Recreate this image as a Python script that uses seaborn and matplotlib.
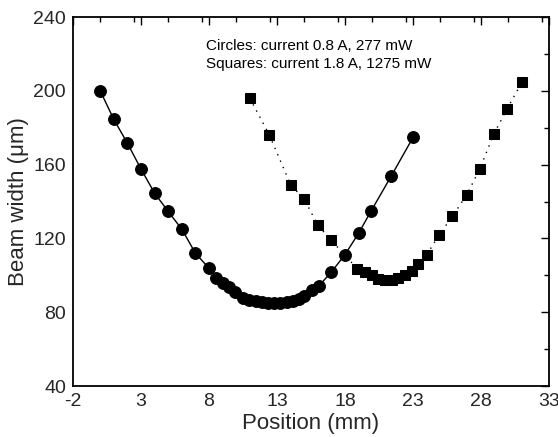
import matplotlib
matplotlib.use("Agg")
import matplotlib.pyplot as plt
import seaborn as sns
import pandas as pd
from matplotlib.ticker import MultipleLocator

# Circles: current 0.8 A, 277 mW
circ_x = [0, 1, 2, 3, 4, 5, 6, 7, 8, 8.5, 9, 9.45, 9.9, 10.5, 10.95, 11.45, 11.9,
          12.35, 12.8, 13.25, 13.7, 14.15, 14.6, 15.0, 15.6, 16.1, 17, 18, 19, 19.9, 21.4, 23]
circ_y = [200, 184.5, 171.6, 157.6, 144.5, 134.6, 125, 112, 103.8, 98.7, 95.8, 93.4, 90.9,
          87.7, 86.6, 86.1, 85.5, 85.0, 84.8, 85.0, 85.3, 86.0, 87.3, 88.8, 92.2, 94.4,
          101.8, 111.2, 122.8, 134.6, 153.8, 174.7]

# Squares: current 1.8 A, 1275 mW
sq_x = [11, 12.43, 14, 15, 16, 17, 18.9, 19.47, 19.96, 20.45, 20.94, 21.43, 21.9, 22.4,
        22.9, 23.4, 24.0, 24.9, 25.9, 26.95, 27.9, 28.95, 29.9, 31.0]
sq_y = [196, 176.2, 149.1, 141.3, 127.2, 118.9, 103.6, 101.8, 100, 98.2, 97.6, 97.6, 98.7,
        100, 102.3, 105.9, 110.9, 121.8, 131.9, 143.7, 157.4, 176.7, 190, 204.5]

x_ticks = [-2, 3, 8, 13, 18, 23, 28, 33]
y_ticks = [40, 80, 120, 160, 200, 240]
annot = ["Circles: current 0.8 A, 277 mW", "Squares: current 1.8 A, 1275 mW"]

sns.set_theme(style="white")
plt.rcParams['font.family'] = ['Liberation Sans', 'DejaVu Sans']
plt.rcParams['axes.unicode_minus'] = False

fig = plt.figure(figsize=(5.58, 4.37), dpi=100)
ax = fig.add_axes([73/558, 1-386/437, (549-73)/558, (386-17)/437])

dc = pd.DataFrame({"x": circ_x, "y": circ_y})
ds = pd.DataFrame({"x": sq_x, "y": sq_y})

sns.lineplot(data=dc, x="x", y="y", ax=ax, sort=False, color="black", linewidth=1.0,
             marker="o", markersize=8.5, markeredgecolor="black", markerfacecolor="black")
sns.lineplot(data=ds, x="x", y="y", ax=ax, sort=False, color="black", linewidth=1.0,
             linestyle=(0, (1, 4)), marker="s", markersize=7.5,
             markeredgecolor="black", markerfacecolor="black")

ax.set_xlim(-2, 33)
ax.set_ylim(40, 240)
ax.set_xticks(x_ticks)
ax.set_yticks(y_ticks)
ax.xaxis.set_minor_locator(MultipleLocator(2.5))
ax.yaxis.set_minor_locator(MultipleLocator(20))
ax.tick_params(which="both", direction="in", top=True, right=True, color="black",
               labelsize=14, width=1.0)
ax.tick_params(which="major", length=6, pad=5)
ax.tick_params(which="minor", length=3.5)
for s in ax.spines.values():
    s.set_color("black")
    s.set_linewidth(1.3)

ax.set_xlabel("Position (mm)", fontsize=16, labelpad=2)
ax.set_ylabel("Beam width (\u03bcm)", fontsize=16, labelpad=3)

ax.text(0.28, 0.91, annot[0], transform=ax.transAxes, fontsize=11, color="black")
ax.text(0.28, 0.862, annot[1], transform=ax.transAxes, fontsize=11, color="black")

fig.savefig("out.png", dpi=100)
